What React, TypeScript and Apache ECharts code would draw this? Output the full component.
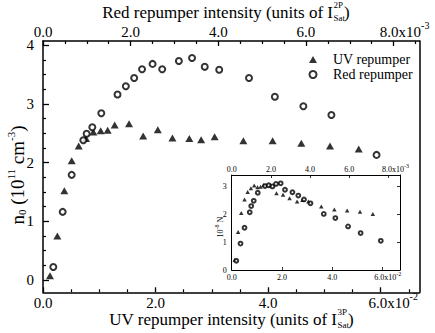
import React, { useEffect, useRef } from "react";
import * as echarts from "echarts";

// UV repumper intensity, units of 1e-2 I_Sat^3P (bottom axis)
const uvIntensity = [0.124, 0.255, 0.379, 0.51, 0.634, 0.764, 0.895, 1.025, 1.149, 1.274, 1.529, 1.78, 2.04, 2.3, 2.6, 2.81, 3.05, 3.56, 4.08, 4.59, 5.1, 5.61];
// peak density n0, 1e11 cm^-3
const uvDensity = [0.07, 0.75, 1.52, 2.03, 2.28, 2.41, 2.52, 2.54, 2.55, 2.64, 2.66, 2.45, 2.56, 2.42, 2.41, 2.39, 2.44, 2.37, 2.37, 2.33, 2.28, 2.23];
// atom number, 1e8 (inset)
const uvAtoms = [0.36, 1.37, 2.05, 2.54, 2.81, 2.94, 3.04, 2.98, 3.0, 3.06, 3.05, 2.76, 2.71, 2.58, 2.47, 2.52, 2.47, 2.29, 2.18, 2.14, 2.1, 2.02];

// Red repumper intensity, units of 1e-3 I_Sat^2P (top axis)
const redIntensity = [0.235, 0.449, 0.654, 0.92, 0.996, 1.125, 1.33, 1.7, 1.89, 2.08, 2.26, 2.5, 2.72, 3.1, 3.4, 3.69, 4.02, 4.7, 5.29, 5.94, 6.58, 7.61];
const redDensity = [0.22, 1.16, 1.79, 2.38, 2.49, 2.6, 2.84, 3.16, 3.3, 3.44, 3.59, 3.68, 3.59, 3.73, 3.78, 3.63, 3.58, 3.44, 3.12, 2.96, 2.81, 2.13];
const redAtoms = [0.33, 0.95, 1.52, 2.08, 2.3, 2.49, 2.78, 3.02, 3.05, 3.01, 3.1, 3.12, 2.89, 2.8, 2.68, 2.54, 2.4, 2.02, 1.87, 1.57, 1.33, 1.05];

// ticks
const uvMajorTicks = [0, 2, 4, 6];
const uvMinorTicks = [0.5, 1, 1.5, 2.5, 3, 3.5, 4.5, 5, 5.5, 6.5];
const redMajorTicks = [0, 2, 4, 6, 8];
const redMinorTicks = [0.5, 1, 1.5, 2.5, 3, 3.5, 4.5, 5, 5.5, 6.5, 7, 7.5, 8.5];
const densityMajorTicks = [0, 1, 2, 3, 4];
const densityMinorTicks = [0.25, 0.5, 0.75, 1.25, 1.5, 1.75, 2.25, 2.5, 2.75, 3.25, 3.5, 3.75];
const atomLabelTicks = [0, 1, 2, 3];
const atomRightTicks = [1, 2, 3];
const insetUvTicks = [2, 4, 6];
const insetRedTicks = [2, 4, 6, 8];

const FONT = "'Liberation Serif', 'DejaVu Serif', serif";
const BLACK = "#000";

export default function App() {
  const ref = useRef<HTMLDivElement>(null);
  useEffect(() => {
    if (!ref.current) return;
    const chart = echarts.init(ref.current, undefined, { renderer: "svg" });

    const uvMax = 6.69;
    const redMax = 8.59;
    const line = (w: number) => ({ show: true, onZero: false, lineStyle: { color: BLACK, width: w } });
    const hiddenLine = { show: false, onZero: false };
    const noLabel = { show: false };
    const noSplit = { show: false };

    const makeLabel = (size: number, supSize: number, supLift: number, last: number, lastText: string, sup: string, lead: number, margin: number) => ({
      fontFamily: FONT,
      fontSize: size,
      color: () => BLACK,
      margin,
      formatter: (v: number) => (v === last ? `{lead|${lastText}}{sup|${sup}}` : `{num|${v.toFixed(1)}}`),
      rich: {
        num: { color: BLACK, fontFamily: FONT, fontSize: size },
        lead: { padding: [0, 0, 0, lead], color: BLACK, fontFamily: FONT, fontSize: size },
        sup: { fontSize: supSize, lineHeight: supSize, padding: [0, 0, supLift, 0], color: BLACK, fontFamily: FONT },
      },
    });

    const option: any = {
      animation: false,
      backgroundColor: "#fff",
      textStyle: { fontFamily: FONT, color: BLACK },
      grid: [
        { left: 43, top: 41, right: 15.5, bottom: 40.7, outerBoundsMode: "none" },
        {
          left: 231.7, top: 175, width: 168.3, height: 95, outerBoundsMode: "none",
          show: true, backgroundColor: "#fff", borderWidth: 0,
        },
      ],
      legend: {
        data: ["UV repumper", "Red repumper"],
        orient: "vertical",
        left: 308.5,
        top: 52,
        itemWidth: 8,
        itemHeight: 7,
        itemGap: 0,
        padding: 0,
        textStyle: { fontFamily: FONT, fontSize: 14, color: BLACK, lineHeight: 15, padding: [0, 0, 0, 11] },
      },
      xAxis: [
        {
          type: "value", gridIndex: 0, position: "bottom", min: 0, max: uvMax,
          axisLine: line(1.5),
          axisTick: { show: true, inside: true, length: 5, customValues: uvMajorTicks, lineStyle: { color: BLACK, width: 1.3 } },
          axisLabel: { ...makeLabel(15, 10, 12, 6, "6.0x10", "-2", 25, 3), customValues: uvMajorTicks },
          splitLine: noSplit,
        },
        {
          type: "value", gridIndex: 0, position: "bottom", min: 0, max: uvMax,
          axisLine: hiddenLine,
          axisTick: { show: true, inside: true, length: 3, customValues: uvMinorTicks, lineStyle: { color: BLACK, width: 1.2 } },
          axisLabel: noLabel, splitLine: noSplit,
        },
        {
          type: "value", gridIndex: 0, position: "top", min: 0, max: redMax,
          axisLine: line(1.5),
          axisTick: { show: true, inside: true, length: 5, customValues: redMajorTicks, lineStyle: { color: BLACK, width: 1.3 } },
          axisLabel: { ...makeLabel(15, 10, 12, 8, "8.0x10", "-3", 22, 2), customValues: redMajorTicks },
          splitLine: noSplit,
        },
        {
          type: "value", gridIndex: 0, position: "top", min: 0, max: redMax,
          axisLine: hiddenLine,
          axisTick: { show: true, inside: true, length: 3, customValues: redMinorTicks, lineStyle: { color: BLACK, width: 1.2 } },
          axisLabel: noLabel, splitLine: noSplit,
        },
        {
          type: "value", gridIndex: 1, position: "bottom", min: 0, max: uvMax,
          axisLine: line(1),
          axisTick: { show: true, inside: true, length: 3, customValues: insetUvTicks, lineStyle: { color: BLACK, width: 0.8 } },
          axisLabel: { ...makeLabel(8, 6, 6, 6, "6.0x10", "-2", 10, 3), customValues: uvMajorTicks },
          splitLine: noSplit,
        },
        {
          type: "value", gridIndex: 1, position: "top", min: 0, max: redMax,
          axisLine: line(1),
          axisTick: { show: true, inside: true, length: 3, customValues: insetRedTicks, lineStyle: { color: BLACK, width: 0.8 } },
          axisLabel: { ...makeLabel(8, 6, 6, 8, "8.0x10", "-3", 14, 2), customValues: redMajorTicks },
          splitLine: noSplit,
        },
      ],
      yAxis: [
        {
          type: "value", gridIndex: 0, position: "left", min: -0.21, max: 4.07,
          axisLine: line(1.5),
          axisTick: { show: true, inside: true, length: 6, customValues: densityMajorTicks, lineStyle: { color: BLACK, width: 1.3 } },
          axisLabel: { customValues: densityMajorTicks, fontFamily: FONT, fontSize: 15, color: BLACK, margin: 9 },
          splitLine: noSplit,
        },
        {
          type: "value", gridIndex: 0, position: "left", min: -0.21, max: 4.07,
          axisLine: hiddenLine,
          axisTick: { show: true, inside: true, length: 3, customValues: densityMinorTicks, lineStyle: { color: BLACK, width: 1.2 } },
          axisLabel: noLabel, splitLine: noSplit,
        },
        {
          type: "value", gridIndex: 0, position: "right", min: -0.21, max: 4.07,
          axisLine: line(1.5),
          axisTick: { show: false }, axisLabel: noLabel, splitLine: noSplit,
        },
        {
          type: "value", gridIndex: 1, position: "left", min: 0, max: 3.42,
          axisLine: line(1),
          axisTick: { show: false },
          axisLabel: { customValues: atomLabelTicks, fontFamily: FONT, fontSize: 8, color: BLACK, margin: 5 },
          splitLine: noSplit,
        },
        {
          type: "value", gridIndex: 1, position: "right", min: 0, max: 3.42,
          axisLine: line(1),
          axisTick: { show: true, inside: true, length: 3, customValues: atomRightTicks, lineStyle: { color: BLACK, width: 0.8 } },
          axisLabel: noLabel, splitLine: noSplit,
        },
      ],
      series: [
        {
          name: "UV repumper", type: "scatter", xAxisIndex: 0, yAxisIndex: 0,
          symbol: "triangle", symbolSize: [8, 7],
          itemStyle: { color: BLACK },
          data: uvIntensity.map((x, i) => [x, uvDensity[i]]),
        },
        {
          name: "Red repumper", type: "scatter", xAxisIndex: 2, yAxisIndex: 0,
          symbol: "emptyCircle", symbolSize: 6,
          itemStyle: { color: BLACK, borderColor: BLACK, borderWidth: 1.3 },
          data: redIntensity.map((x, i) => [x, redDensity[i]]),
        },
        {
          name: "UV repumper", type: "scatter", xAxisIndex: 4, yAxisIndex: 3,
          symbol: "triangle", symbolSize: [4.5, 4],
          itemStyle: { color: BLACK },
          data: uvIntensity.map((x, i) => [x, uvAtoms[i]]),
        },
        {
          name: "Red repumper", type: "scatter", xAxisIndex: 5, yAxisIndex: 3,
          symbol: "emptyCircle", symbolSize: 3.8,
          itemStyle: { color: BLACK, borderColor: BLACK, borderWidth: 0.9 },
          data: redIntensity.map((x, i) => [x, redAtoms[i]]),
        },
      ],
      graphic: [
        // top axis title
        { type: "text", x: 333, y: 12.5, style: { text: "Red repumper intensity (units of I", font: `17px ${FONT}`, align: "right", verticalAlign: "middle", fill: BLACK } },
        { type: "text", x: 333.5, y: 5, style: { text: "2P", font: `9px ${FONT}`, align: "left", verticalAlign: "middle", fill: BLACK } },
        { type: "text", x: 333.5, y: 18, style: { text: "Sat", font: `9px ${FONT}`, align: "left", verticalAlign: "middle", fill: BLACK } },
        { type: "text", x: 344, y: 12.5, style: { text: ")", font: `17px ${FONT}`, align: "left", verticalAlign: "middle", fill: BLACK } },
        // bottom axis title
        { type: "text", x: 337, y: 319, style: { text: "UV repumper intensity (units of I", font: `17px ${FONT}`, align: "right", verticalAlign: "middle", fill: BLACK } },
        { type: "text", x: 337.5, y: 312, style: { text: "3P", font: `9px ${FONT}`, align: "left", verticalAlign: "middle", fill: BLACK } },
        { type: "text", x: 337.5, y: 325, style: { text: "Sat", font: `9px ${FONT}`, align: "left", verticalAlign: "middle", fill: BLACK } },
        { type: "text", x: 348, y: 319, style: { text: ")", font: `17px ${FONT}`, align: "left", verticalAlign: "middle", fill: BLACK } },
        // y axis title
        {
          type: "text", x: 17, y: 175, rotation: Math.PI / 2,
          style: {
            text: "{a|n}{sub|0}{a| (10}{sup|11}{a| cm}{sup|-3}{a|)}",
            align: "center", verticalAlign: "middle", fill: BLACK, font: `19px ${FONT}`,
            rich: {
              a: { fontFamily: FONT, fontSize: 19, lineHeight: 20, color: BLACK },
              sub: { fontFamily: FONT, fontSize: 11, lineHeight: 11, padding: [10, 0, 0, 0], color: BLACK },
              sup: { fontFamily: FONT, fontSize: 11, lineHeight: 11, padding: [0, 0, 12, 0], color: BLACK },
            },
          },
        },
        // inset y axis title
        {
          type: "text", x: 220, y: 227, rotation: Math.PI / 2,
          style: {
            text: "{a|10}{sup|-8}{a| N}",
            align: "center", verticalAlign: "middle", fill: BLACK, font: `8px ${FONT}`,
            rich: {
              a: { fontFamily: FONT, fontSize: 8, lineHeight: 9, color: BLACK },
              sup: { fontFamily: FONT, fontSize: 6, lineHeight: 6, padding: [0, 0, 6, 0], color: BLACK },
            },
          },
        },
      ],
    };
    chart.setOption(option);
    return () => chart.dispose();
  }, []);
  return (
    <div
      ref={ref}
      style={{ position: "fixed", left: 0, top: 0, width: 435, height: 333, background: "#fff" }}
    />
  );
}
